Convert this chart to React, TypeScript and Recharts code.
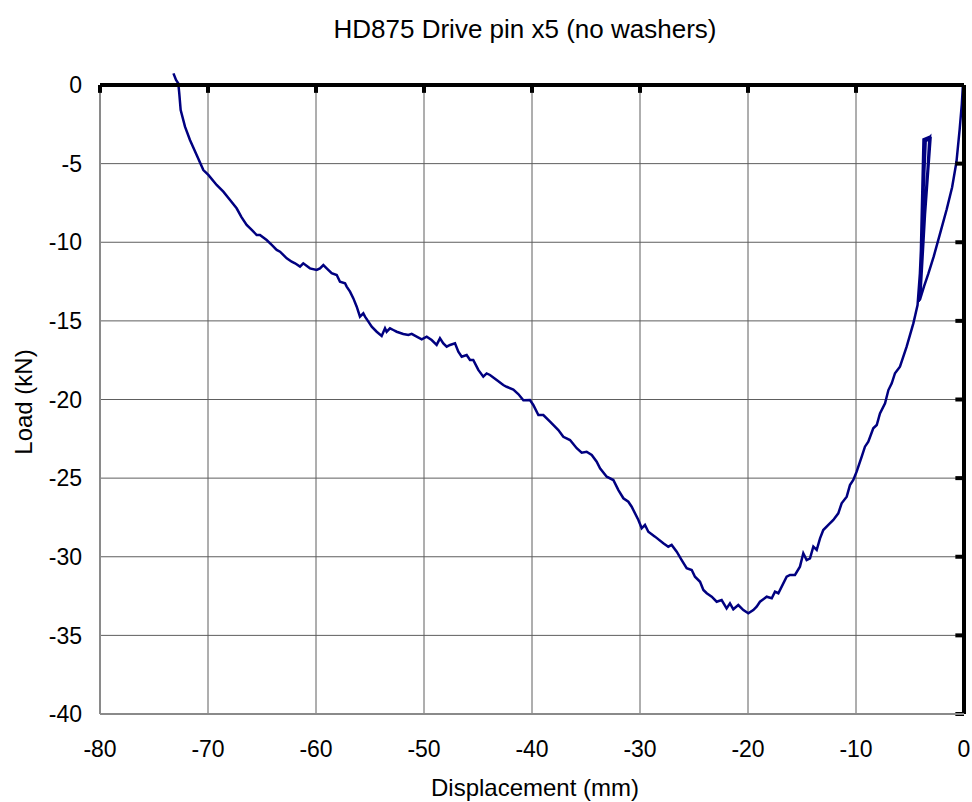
import React from "react";
import { LineChart, Line, XAxis, YAxis, CartesianGrid, ReferenceLine } from "recharts";
import type { JSX } from "react";

// displacement (mm) and load (kN), in test order
const disp: number[] = [
  -0.1, -0.2, -0.4, -0.7, -1.1, -1.6, -2.2, -2.8, -3.3, -3.7, -4.1,
  -3.75, -3.2, -4.05, -3.65, -3.1, -4.2, -3.55, -3.15, -4.3,
  -4.5, -4.69, -5.31, -5.93, -6.39, -6.69, -7.0, -7.31, -7.78, -8.08, -8.4, -8.86, -9.17, -9.47, -9.94,
  -10.25, -10.56, -10.86, -11.33, -11.64, -12.1, -12.56, -13.03, -13.33, -13.64, -13.95, -14.26, -14.57,
  -14.88, -15.19, -15.65, -16.11, -16.42, -16.73,
  -17.19, -17.5, -17.8, -18.27, -18.89, -19.2, -19.51, -19.97, -20.43, -20.9, -21.36, -21.67, -21.98,
  -22.44, -22.9, -23.36, -23.82, -24.13, -24.44, -24.91, -25.21, -25.68, -26.14, -26.6, -27.07, -27.38,
  -27.84, -28.61, -29.23, -29.54, -29.84, -30.15, -30.77, -31.08, -31.54, -32.0, -32.47, -33.08, -33.7,
  -34.01, -34.47, -34.94, -35.4, -35.86, -36.48, -37.1, -37.56, -38.33, -38.95, -39.41, -39.88, -40.19, -40.8,
  -41.27, -41.73, -42.35, -42.66, -43.27, -43.89, -44.2, -44.51, -44.97, -45.44, -45.74, -46.05, -46.51,
  -46.82, -47.13, -47.59, -47.9, -48.21, -48.52, -48.83, -49.29, -49.75, -50.21, -50.68, -51.14, -51.45,
  -51.92, -52.53, -52.84, -53.15, -53.46, -53.61, -53.92, -54.38, -54.84, -55.15, -55.46, -55.62, -55.93,
  -56.23, -56.54, -56.85, -57.16, -57.31, -57.78, -58.08, -58.55, -59.01, -59.32, -59.63, -59.94, -60.56,
  -61.18, -61.48, -61.94, -62.25, -62.71, -63.33, -63.64, -64.1, -64.57, -65.19, -65.49, -65.95, -66.42,
  -66.9, -67.35, -67.96, -68.58, -69.2, -69.97, -70.43, -71.05, -71.67, -72.13, -72.53, -72.66, -72.75,
  -72.96, -73.2,
];

const load: number[] = [
  0, -1.2, -2.8, -4.9, -6.5, -7.9, -9.4, -10.9, -12.0, -12.8, -13.7,
  -3.45, -3.3, -13.5, -3.5, -3.4, -13.8, -3.6, -3.3, -14.0,
  -14.6, -15.16, -16.64, -17.91, -18.33, -18.97, -19.4, -20.24, -20.88, -21.62, -21.83, -22.68, -23.0, -23.64, -24.59,
  -25.12, -25.44, -26.18, -26.6, -27.24, -27.66, -27.98, -28.3, -28.83, -29.57, -29.36, -30.1, -30.21,
  -29.78, -30.63, -31.16, -31.16, -31.27, -31.69,
  -32.32, -32.22, -32.64, -32.54, -32.86, -33.17, -33.39, -33.6, -33.39, -33.07, -33.34, -32.96, -33.28,
  -32.75, -32.86, -32.54, -32.32, -32.11, -31.59, -31.27, -30.84, -30.73, -30.21, -29.68, -29.25, -29.36,
  -29.14, -28.72, -28.41, -27.98, -28.19, -27.66, -26.82, -26.5, -26.28, -25.76, -25.12, -24.91, -24.38,
  -23.96, -23.53, -23.32, -23.38, -23.1, -22.58, -22.37, -21.94, -21.41, -20.99, -20.99, -20.35, -20.03, -20.05,
  -19.65, -19.37, -19.19, -19.08, -18.76, -18.44, -18.34, -18.55, -18.12, -17.49, -17.49, -17.17, -17.28,
  -16.96, -16.43, -16.53, -16.64, -16.43, -16.11, -16.53, -16.22, -16.0, -16.17, -16.0, -15.83, -15.9,
  -15.83, -15.69, -15.58, -15.47, -15.69, -15.47, -15.96, -15.69, -15.37, -15.05, -14.73, -14.52, -14.73,
  -14.1, -13.57, -13.14, -12.82, -12.61, -12.51, -12.08, -11.97, -11.66, -11.45, -11.66, -11.76, -11.66,
  -11.34, -11.55, -11.34, -11.24, -11.02, -10.6, -10.49, -10.17, -9.86, -9.54, -9.54, -9.22, -8.9,
  -8.4, -7.84, -7.31, -6.78, -6.36, -5.72, -5.41, -4.45, -3.5, -2.65, -1.59, -0.53, 0.1,
  0.32, 0.74,
];

const xTicks = [-80, -70, -60, -50, -40, -30, -20, -10, 0];
const yTicks = [0, -5, -10, -15, -20, -25, -30, -35, -40];

const FONT = "'Liberation Sans', Arial, Helvetica, sans-serif";
const AXIS = "#000";

// plot frame: y=0 at 85px, y=-40 at 714px; a little headroom above 0 so the curve can poke out
const TOP0 = 85;
const BOTTOM = 714;
const HEADROOM = 1;
const PX_PER_KN = (BOTTOM - TOP0) / 40;

export default function App(): JSX.Element {
  const data = disp.map((x, i) => ({ x, y: load[i] }));

  return (
    <div style={{ position: "absolute", left: 0, top: 0, width: 972, height: 802, background: "#fff", fontFamily: FONT }}>
      <div
        style={{
          position: "absolute", left: 525, top: 29, transform: "translate(-50%, -50%)",
          fontSize: 26, whiteSpace: "nowrap", color: "#000", lineHeight: 1,
        }}
      >
        HD875 Drive pin x5 (no washers)
      </div>
      <div
        style={{
          position: "absolute", left: 535, top: 788, transform: "translate(-50%, -50%)",
          fontSize: 24, whiteSpace: "nowrap", color: "#000", lineHeight: 1,
        }}
      >
        Displacement (mm)
      </div>
      <div
        style={{
          position: "absolute", left: 24, top: 402, transform: "translate(-50%, -50%) rotate(-90deg)",
          fontSize: 24, whiteSpace: "nowrap", color: "#000", lineHeight: 1,
        }}
      >
        Load (kN)
      </div>

      <LineChart
        width={972}
        height={802}
        data={data}
        margin={{ top: TOP0 - HEADROOM * PX_PER_KN, right: 8, bottom: 0, left: 0 }}
      >
        <CartesianGrid stroke="#5e5e5e" strokeWidth={1} y={TOP0} height={BOTTOM - TOP0} syncWithTicks />
        <XAxis
          dataKey="x"
          type="number"
          domain={[-80, 0]}
          ticks={xTicks}
          height={88}
          tickSize={0}
          tickMargin={27}
          axisLine={{ stroke: "#8a8a8a", strokeWidth: 2 }}
          tick={{ fontSize: 23, fill: "#000", fontFamily: FONT }}
        />
        <YAxis
          type="number"
          domain={[-40, HEADROOM]}
          allowDataOverflow
          ticks={yTicks}
          width={100}
          tickSize={0}
          tickMargin={18}
          axisLine={false}
          tick={{ fontSize: 23, fill: "#000", fontFamily: FONT }}
        />
        <ReferenceLine
          segment={[{ x: -80, y: -40 }, { x: -80, y: 0 }]}
          stroke="#8a8a8a"
          strokeWidth={2}
        />
        <Line
          dataKey="y"
          type="linear"
          stroke="#000080"
          strokeWidth={2.5}
          dot={false}
          isAnimationActive={false}
        />
        {/* thick axes through the origin: top edge (load = 0) and right edge (displacement = 0) */}
        <ReferenceLine y={0} stroke={AXIS} strokeWidth={4} />
        <ReferenceLine segment={[{ x: 0, y: 0 }, { x: 0, y: -40 }]} stroke={AXIS} strokeWidth={4} />
        {xTicks.map((t) => (
          <ReferenceLine key={`tx${t}`} segment={[{ x: t, y: 0 }, { x: t, y: -0.5 }]} stroke={AXIS} strokeWidth={4} />
        ))}
        {yTicks.map((t) => (
          <ReferenceLine key={`ty${t}`} segment={[{ x: -0.8, y: t }, { x: 0, y: t }]} stroke={AXIS} strokeWidth={4} />
        ))}
      </LineChart>
    </div>
  );
}
